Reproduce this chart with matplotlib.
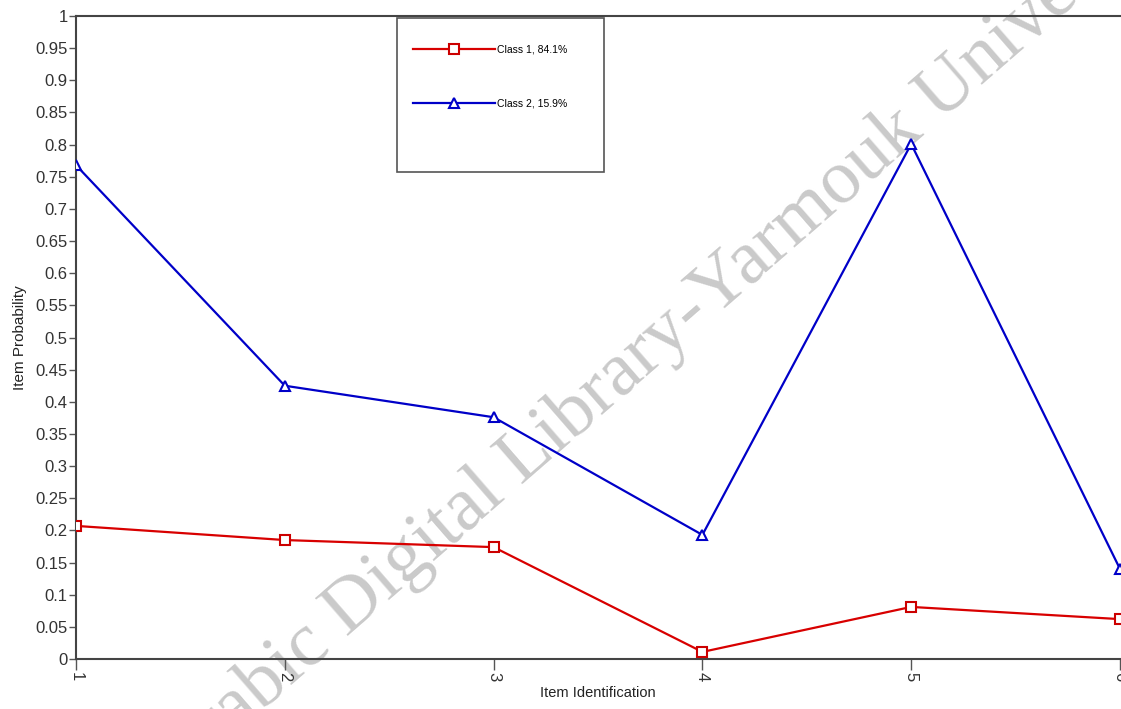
import matplotlib.pyplot as plt
from matplotlib.patches import Rectangle

items = [1, 2, 3, 4, 5, 6]
class1 = [0.207, 0.185, 0.174, 0.011, 0.081, 0.062]
class2 = [0.768, 0.425, 0.376, 0.193, 0.801, 0.140]
class_labels = ["Class 1, 84.1%", "Class 2, 15.9%"]
y_ticks = [round(i * 0.05, 2) for i in range(21)]
y_ticklabels = ["0"] + ["%g" % v for v in y_ticks[1:]]

plt.rcParams['font.family'] = ['Liberation Sans', 'DejaVu Sans']

fig = plt.figure(figsize=(11.21, 7.09), dpi=100)
ax = fig.add_axes([76 / 1121, 1 - 659 / 709, 1044 / 1121, 643 / 709])
ax.patch.set_visible(False)

# watermark behind the lines
ax.text(0.157, -0.109, "Arabic Digital Library-Yarmouk University",
        transform=fig.transFigure, rotation=41, rotation_mode='anchor',
        ha='left', va='baseline', fontsize=55, color='#cacaca',
        family=['Liberation Serif', 'DejaVu Serif'], zorder=0, clip_on=False)

ax.plot(items, class1, color='#d80000', lw=1.6, marker='s', markersize=7,
        markerfacecolor='white', markeredgecolor='#cc0000', markeredgewidth=1.5,
        label=class_labels[0], zorder=3)
ax.plot(items, class2, color='#0000c8', lw=1.6, marker='^', markersize=7,
        markerfacecolor='white', markeredgecolor='#0000c8', markeredgewidth=1.5,
        label=class_labels[1], zorder=3)

ax.set_xlim(1, 6)
ax.set_ylim(0, 1)
ax.set_xticks(items)
ax.set_xticklabels([str(i) for i in items], rotation=-90)
ax.set_yticks(y_ticks)
ax.set_yticklabels(y_ticklabels)

for s in ['left', 'bottom', 'top']:
    ax.spines[s].set_color('#444444')
    ax.spines[s].set_linewidth(1.5)
ax.spines['right'].set_visible(False)

ax.tick_params(axis='y', length=5, width=1, color='#555555', pad=1,
               labelsize=12, labelcolor='#333333')
ax.tick_params(axis='x', length=8, width=1, color='#555555', pad=1,
               labelsize=12, labelcolor='#333333')

ax.set_xlabel("Item Identification", fontsize=10.5, color='#222222', labelpad=4)
ax.set_ylabel("Item Probability", fontsize=11, color='#222222', labelpad=6)

# legend box
ax.add_patch(Rectangle((0.3075, 0.7574), 0.1982, 0.2395, transform=ax.transAxes,
                       fill=False, edgecolor='#555555', lw=1.2, clip_on=False, zorder=4))
leg = ax.legend(loc='upper left', bbox_to_anchor=(0.3225, 0.9556), frameon=False,
                fontsize=7.5, handlelength=7.9, handletextpad=0.15,
                labelspacing=4.2, borderpad=0, borderaxespad=0)

fig.savefig("out.png", dpi=100)
